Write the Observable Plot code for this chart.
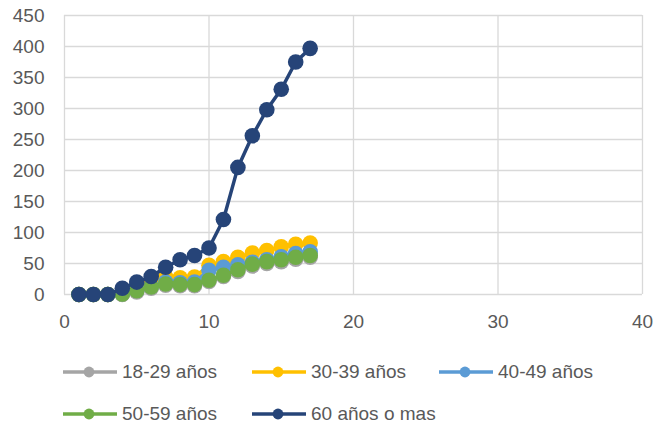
<!DOCTYPE html>
<html>
<head>
<meta charset="utf-8">
<script src="https://cdn.jsdelivr.net/npm/d3@7"></script>
<script src="https://cdn.jsdelivr.net/npm/@observablehq/plot@0.6"></script>
<style>
  html, body { margin: 0; padding: 0; background: #fff; }
  #wrap { position: relative; width: 662px; height: 428px; font-family: "Liberation Sans", Arial, sans-serif; }
  #legend { position: absolute; left: 0; top: 0; width: 662px; height: 428px; pointer-events: none; }
  .item { position: absolute; display: flex; align-items: center; color: #595959; font-size: 19px; white-space: nowrap; }
  .item svg { display: block; margin-right: 5px; }
</style>
</head>
<body>
<div id="wrap"><div id="chart"></div><div id="legend"></div></div>
<script>
const days = [1,2,3,4,5,6,7,8,9,10,11,12,13,14,15,16,17];
const seriesNames = ["18-29 años","30-39 años","40-49 años","50-59 años","60 años o mas"];
const colors = ["#A5A5A5","#FFC000","#5B9BD5","#70AD47","#264478"];
const v18_29 = [0,0,0,0,4,10,15,14,14,21,29,37,46,50,53,57,60];
const v30_39 = [0,0,0,1,9,18,28,27,28,47,53,60,67,71,77,81,83];
const v40_49 = [0,0,0,1,7,13,20,19,20,39,44,48,52,56,61,66,69];
const v50_59 = [0,0,0,1,6,12,17,16,16,23,31,40,49,53,56,60,63];
const v60plus = [0,0,0,10,20,29,44,56,63,75,121,205,256,298,331,375,397];
const seriesValues = [v18_29, v30_39, v40_49, v50_59, v60plus];
const xTicks = [0,10,20,30,40];
const yTicks = [0,50,100,150,200,250,300,350,400,450];

const gridColor = "#D9D9D9";
const marks = [
  Plot.ruleY(yTicks, {stroke: gridColor, strokeWidth: 1.3}),
  Plot.ruleX(xTicks, {stroke: gridColor, strokeWidth: 1.3}),
  Plot.axisY({ticks: yTicks, tickSize: 0, tickPadding: 20, fontSize: 19, color: "#595959", label: null}),
  Plot.axisX({ticks: xTicks, tickSize: 0, tickPadding: 20, fontSize: 19, color: "#595959", label: null})
];
seriesValues.forEach((vals, i) => {
  const rows = days.map((d, j) => ({x: d, y: vals[j]}));
  marks.push(Plot.line(rows, {x: "x", y: "y", stroke: colors[i], strokeWidth: 3.5}));
  marks.push(Plot.dot(rows, {x: "x", y: "y", fill: colors[i], r: 7.8}));
});

const chart = Plot.plot({
  width: 662,
  height: 340,
  marginLeft: 64,
  marginRight: 20,
  marginTop: 15,
  marginBottom: 46,
  x: {domain: [0, 40]},
  y: {domain: [0, 450]},
  style: {fontFamily: "'Liberation Sans', Arial, sans-serif", color: "#595959", background: "#fff"},
  marks
});
document.getElementById("chart").appendChild(chart);

const legendPos = [[63, 372], [252, 372], [439, 372], [63, 414], [252, 414]];
const legend = document.getElementById("legend");
seriesNames.forEach((name, i) => {
  const div = document.createElement("div");
  div.className = "item";
  div.style.left = legendPos[i][0] + "px";
  div.style.top = (legendPos[i][1] - 12) + "px";
  div.style.height = "24px";
  div.innerHTML = `<svg width="54" height="14"><line x1="0" x2="54" y1="7" y2="7" stroke="${colors[i]}" stroke-width="3.4"/><circle cx="26" cy="7" r="5.4" fill="${colors[i]}"/></svg><span>${name}</span>`;
  legend.appendChild(div);
});
</script>
</body>
</html>
